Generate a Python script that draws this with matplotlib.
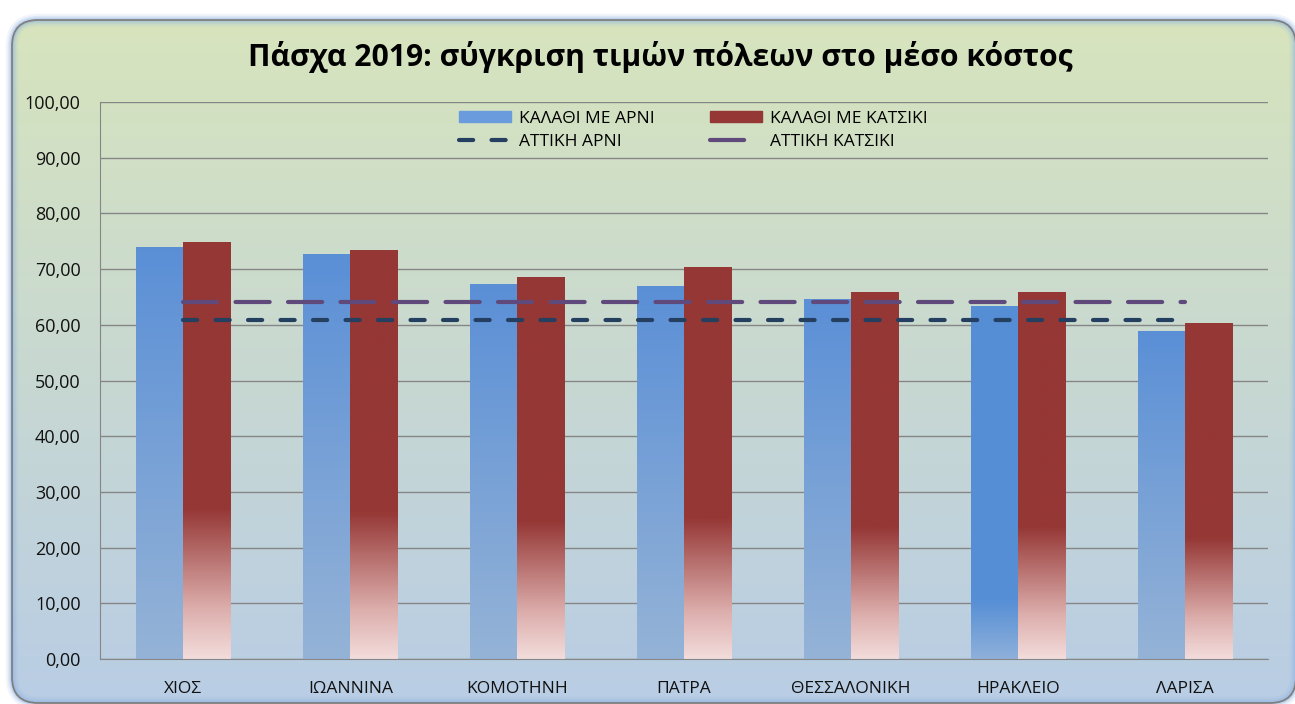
import numpy as np
import matplotlib
matplotlib.use('Agg')
import matplotlib.pyplot as plt
from matplotlib.colors import LinearSegmentedColormap
from matplotlib.patches import FancyBboxPatch, Patch
from matplotlib.lines import Line2D

plt.rcParams['font.family'] = ['Open Sans', 'DejaVu Sans']

# data
cities = ['ΧΙΟΣ', 'ΙΩΑΝΝΙΝΑ', 'ΚΟΜΟΤΗΝΗ', 'ΠΑΤΡΑ', 'ΘΕΣΣΑΛΟΝΙΚΗ', 'ΗΡΑΚΛΕΙΟ', 'ΛΑΡΙΣΑ']
lamb_basket = [74.0, 72.7, 67.3, 67.0, 64.6, 63.4, 58.9]
goat_basket = [74.9, 73.4, 68.6, 70.3, 65.8, 65.9, 60.4]
attica_lamb = [60.9] * len(cities)
attica_goat = [64.1] * len(cities)

title = 'Πάσχα 2019: σύγκριση τιμών πόλεων στο μέσο κόστος'

W, H = 1295, 704
fig = plt.figure(figsize=(W / 100, H / 100), dpi=100)

# background: rounded frame with green->blue gradient
bg = fig.add_axes([0, 0, 1, 1], zorder=-10)
bg.set_xlim(0, W)
bg.set_ylim(0, H)
bg.axis('off')
for lw, a in [(9, 0.12), (6, 0.2), (3.5, 0.35)]:
    glow = FancyBboxPatch((12, 1), 1284, 683, boxstyle='round,pad=0,rounding_size=26',
                          fc='none', ec='#8db3e2', lw=lw, alpha=a)
    bg.add_patch(glow)
frame = FancyBboxPatch((12, 1), 1284, 683, boxstyle='round,pad=0,rounding_size=26',
                       fc='none', ec='#7f7f7f', lw=1.3, zorder=3)
bg.add_patch(frame)
bg_cmap = LinearSegmentedColormap.from_list('bg', ['#b9cde5', '#d7e4bd'])
grad = np.linspace(0, 1, 256).reshape(-1, 1)
im = bg.imshow(grad, cmap=bg_cmap, origin='lower', extent=[12, 1296, 1, 684], aspect='auto')
im.set_clip_path(frame)

ax = fig.add_axes([100 / W, 1 - 659 / H, 1168 / W, 557 / H])
ax.set_facecolor('none')

x = np.arange(len(cities))
bw = 0.282

blue_cmap = LinearSegmentedColormap.from_list('blue', ['#95b3d7', '#5a8fd6'])
blue_cmap2 = LinearSegmentedColormap.from_list('blue2', [(0, '#8eb0da'), (0.17, '#558ed5'), (1, '#558ed5')])
red_cmap = LinearSegmentedColormap.from_list('red', [(0, '#f2dcdb'), (0.12, '#dcaeac'), (0.36, '#953735'), (1, '#953735')])

bars1 = ax.bar(x - bw / 2, lamb_basket, bw, color='none', zorder=2)
bars2 = ax.bar(x + bw / 2, goat_basket, bw, color='none', zorder=2)

def fill_gradient(bar, cmap):
    x0 = bar.get_x()
    h = bar.get_height()
    img = ax.imshow(grad, cmap=cmap, origin='lower', aspect='auto',
                    extent=[x0, x0 + bar.get_width(), 0, h], zorder=2)
    img.set_clip_path(bar)

for i, b in enumerate(bars1):
    fill_gradient(b, blue_cmap2 if cities[i] == 'ΗΡΑΚΛΕΙΟ' else blue_cmap)
for b in bars2:
    fill_gradient(b, red_cmap)

ax.plot(x, attica_goat, color='#604a7b', lw=3, dashes=(8.2, 4.4),
        dash_capstyle='round', zorder=3)
ax.plot(x, attica_lamb, color='#243f60', lw=3, dashes=(3.4, 4.4),
        dash_capstyle='round', zorder=3)

ax.set_xlim(-0.5, len(cities) - 0.5)
ax.set_ylim(0, 100)
ax.set_yticks(np.arange(0, 101, 10))
ax.set_yticklabels([('%.2f' % v).replace('.', ',') for v in np.arange(0, 101, 10)], fontsize=13)
ax.set_xticks(x)
ax.set_xticklabels(cities, fontsize=12.5)
ax.tick_params(length=0, colors='#111111')
ax.tick_params(axis='x', pad=16)
ax.tick_params(axis='y', pad=14)
ax.grid(axis='y', color='#868686', lw=1)
ax.set_axisbelow(True)
for s in ['top', 'right']:
    ax.spines[s].set_visible(False)
for s in ['left', 'bottom']:
    ax.spines[s].set_color('#868686')

fig.text(660 / W, 1 - 57 / H, title, ha='center', va='center', fontsize=21.7, fontweight='bold')

handles = [Patch(color='#6a9bdc'), Line2D([], [], color='#243f60', lw=3, dashes=(3.4, 4.4), dash_capstyle='round'),
           Patch(color='#953735'), Line2D([], [], color='#604a7b', lw=3, dashes=(8.2, 4.4), dash_capstyle='round')]
labels = ['ΚΑΛΑΘΙ ΜΕ ΑΡΝΙ', 'ΑΤΤΙΚΗ ΑΡΝΙ', 'ΚΑΛΑΘΙ ΜΕ ΚΑΤΣΙΚΙ', 'ΑΤΤΙΚΗ ΚΑΤΣΙΚΙ']
ax.legend(handles, labels, ncol=2, loc='upper center', bbox_to_anchor=(0.508, 1.012),
          frameon=False, fontsize=12.5, handlelength=3.0, handleheight=0.6, handletextpad=0.45,
          columnspacing=3.2, labelspacing=0.4)

fig.savefig('out.png', dpi=100)
